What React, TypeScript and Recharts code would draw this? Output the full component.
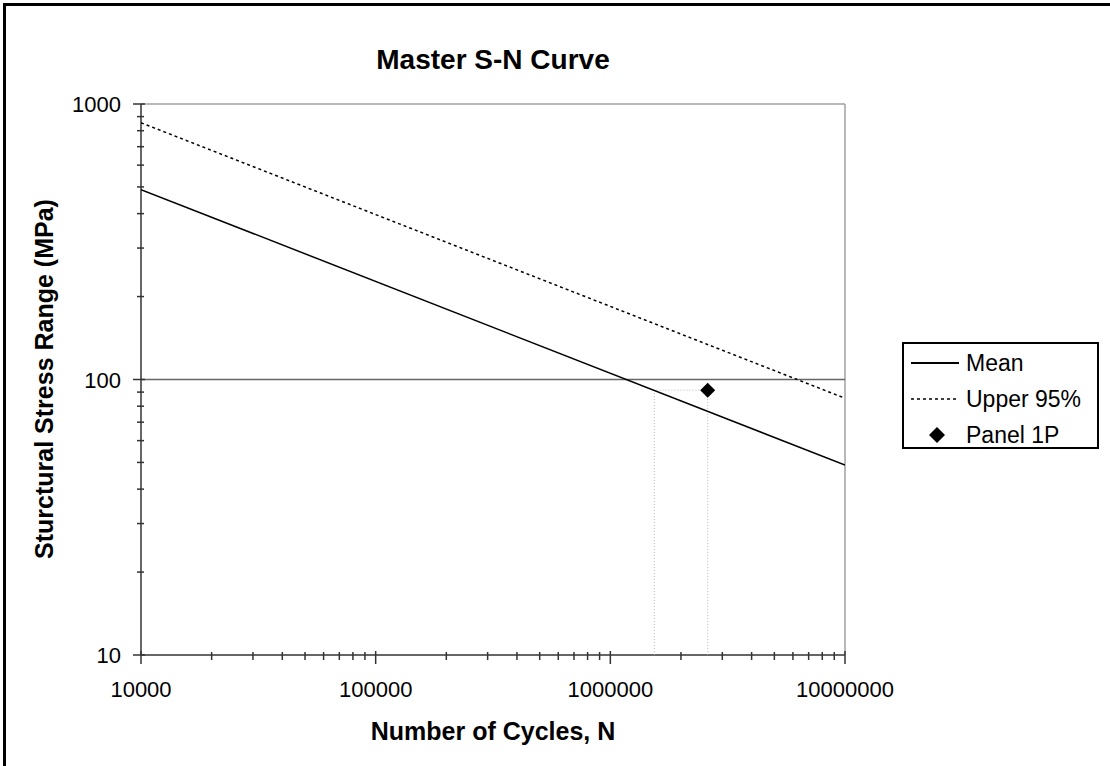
import React from "react";
import {
  ScatterChart,
  Scatter,
  XAxis,
  YAxis,
  ReferenceLine,
} from "recharts";

// ---- data ----
const meanCurve = [
  { x: 10000, y: 489 },
  { x: 10000000, y: 48.9 },
];
const upperCurve = [
  { x: 10000, y: 855 },
  { x: 10000000, y: 85.5 },
];
const panelPoint = [{ x: 2600000, y: 91.5 }];
const dropLines = [
  { x: 1540000, y: 10 },
  { x: 1540000, y: 91.5 },
  { x: 2600000, y: 91.5 },
  { x: 2600000, y: 10 },
];
const limitStress = 100;

const xMajorTicks = [10000, 100000, 1000000, 10000000];
const yMajorTicks = [10, 100, 1000];
const minorMultipliers = [2, 3, 4, 5, 6, 7, 8, 9];

const title = "Master S-N Curve";
const xTitle = "Number of Cycles, N";
const yTitle = "Sturctural Stress Range (MPa)";
const legendItems = ["Mean", "Upper 95%", "Panel 1P"];

const withMinor = (majors: number[]) => {
  const out: number[] = [];
  majors.forEach((m, i) => {
    out.push(m);
    if (i < majors.length - 1) minorMultipliers.forEach((k) => out.push(m * k));
  });
  return out;
};
const xTicks = withMinor(xMajorTicks);
const yTicks = withMinor(yMajorTicks);

const FONT = "'Liberation Sans', Arial, sans-serif";
const AXIS = "#333";

const isMajor = (v: number, majors: number[]) =>
  majors.some((m) => Math.abs(m - v) / m < 1e-9);

const XTick = (props: any) => {
  const { x, y, payload } = props;
  const v = payload.value;
  const major = isMajor(v, xMajorTicks);
  return (
    <g>
      <line
        x1={x}
        x2={x}
        y1={y - (major ? 4 : 3)}
        y2={y + (major ? 9 : 5)}
        stroke={AXIS}
        strokeWidth={1.5}
      />
      {major && (
        <text
          x={x}
          y={y + 42}
          textAnchor="middle"
          fontSize={22}
          fontFamily={FONT}
          fill="#000"
        >
          {String(v)}
        </text>
      )}
    </g>
  );
};

const YTick = (props: any) => {
  const { x, y, payload } = props;
  const v = payload.value;
  const major = isMajor(v, yMajorTicks);
  return (
    <g>
      <line
        x1={x - (major ? 8 : 4)}
        x2={x + (major ? 4 : 3)}
        y1={y}
        y2={y}
        stroke={AXIS}
        strokeWidth={1.5}
      />
      {major && (
        <text
          x={x - 20}
          y={y + 8}
          textAnchor="end"
          fontSize={22}
          fontFamily={FONT}
          fill="#000"
        >
          {String(v)}
        </text>
      )}
    </g>
  );
};

const NoDot = () => <g />;

const Diamond = (props: any) => {
  const { cx, cy } = props;
  const r = 7.5;
  return (
    <polygon
      points={`${cx},${cy - r} ${cx + r},${cy} ${cx},${cy + r} ${cx - r},${cy}`}
      fill="#000"
    />
  );
};

export default function App() {
  return (
    <div
      style={{
        position: "absolute",
        left: 0,
        top: 0,
        width: 1110,
        height: 766,
        background: "#fff",
        overflow: "hidden",
        fontFamily: FONT,
      }}
    >
      <div
        style={{
          position: "absolute",
          left: 3,
          top: 3,
          width: 1200,
          height: 900,
          borderTop: "3px solid #000",
          borderLeft: "3px solid #000",
        }}
      />
      <div style={{ position: "absolute", left: 0, top: 0 }}>
        <ScatterChart
          width={1110}
          height={766}
          margin={{ top: 104, right: 265, bottom: 0, left: 0 }}
        >
          <XAxis
            dataKey="x"
            type="number"
            scale="log"
            domain={[10000, 10000000]}
            allowDataOverflow
            ticks={xTicks}
            interval={0}
            tick={<XTick />}
            tickLine={false}
            tickSize={0}
            tickMargin={0}
            height={111}
            axisLine={{ stroke: AXIS, strokeWidth: 1.5 }}
          />
          <YAxis
            dataKey="y"
            type="number"
            scale="log"
            domain={[10, 1000]}
            allowDataOverflow
            ticks={yTicks}
            interval={0}
            tick={<YTick />}
            tickLine={false}
            tickSize={0}
            tickMargin={0}
            width={141}
            axisLine={{ stroke: AXIS, strokeWidth: 1.5 }}
          />
          <ReferenceLine y={1000} stroke="#a0a0a0" strokeWidth={1.5} />
          <ReferenceLine x={10000000} stroke="#a0a0a0" strokeWidth={1.5} />
          <ReferenceLine y={limitStress} stroke="#666" strokeWidth={1.5} />
          <Scatter
            name="drop"
            data={dropLines}
            line={{ stroke: "#b8b8b8", strokeWidth: 1, strokeDasharray: "1 2" }}
            shape={<NoDot />}
            isAnimationActive={false}
          />
          <Scatter
            name="Mean"
            data={meanCurve}
            line={{ stroke: "#000", strokeWidth: 1.5 }}
            shape={<NoDot />}
            isAnimationActive={false}
          />
          <Scatter
            name="Upper 95%"
            data={upperCurve}
            line={{ stroke: "#000", strokeWidth: 1.5, strokeDasharray: "3 3" }}
            shape={<NoDot />}
            isAnimationActive={false}
          />
          <Scatter
            name="Panel 1P"
            data={panelPoint}
            shape={<Diamond />}
            isAnimationActive={false}
          />
        </ScatterChart>
      </div>

      {/* Title */}
      <div
        style={{
          position: "absolute",
          left: 193,
          width: 600,
          top: 42,
          textAlign: "center",
          fontSize: 28,
          fontWeight: "bold",
          lineHeight: "36px",
        }}
      >
        {title}
      </div>

      {/* X axis title */}
      <div
        style={{
          position: "absolute",
          left: 193,
          width: 600,
          top: 716,
          textAlign: "center",
          fontSize: 25,
          fontWeight: "bold",
          lineHeight: "30px",
        }}
      >
        {xTitle}
      </div>

      {/* Y axis title */}
      <div
        style={{
          position: "absolute",
          left: 44 - 250,
          top: 379 - 15,
          width: 500,
          height: 30,
          textAlign: "center",
          fontSize: 25,
          fontWeight: "bold",
          lineHeight: "30px",
          transform: "rotate(-90deg)",
          transformOrigin: "50% 50%",
        }}
      >
        {yTitle}
      </div>

      {/* Legend */}
      <div
        style={{
          position: "absolute",
          left: 902,
          top: 342,
          width: 193,
          height: 103,
          border: "2px solid #000",
          background: "#fff",
        }}
      >
        {legendItems.map((name, i) => (
          <div
            key={name}
            style={{
              position: "absolute",
              left: 0,
              top: 2 + i * 36,
              height: 34,
              width: 193,
            }}
          >
            <svg
              width={60}
              height={34}
              style={{ position: "absolute", left: 0, top: 0 }}
            >
              {i === 0 && (
                <line x1={7} x2={55} y1={17} y2={17} stroke="#000" strokeWidth={2} />
              )}
              {i === 1 && (
                <line
                  x1={7}
                  x2={55}
                  y1={17}
                  y2={17}
                  stroke="#000"
                  strokeWidth={1.5}
                  strokeDasharray="3 3"
                />
              )}
              {i === 2 && (
                <polygon points="33,9 41,17 33,25 25,17" fill="#000" />
              )}
            </svg>
            <div
              style={{
                position: "absolute",
                left: 62,
                top: 0,
                lineHeight: "34px",
                fontSize: 23,
                whiteSpace: "nowrap",
              }}
            >
              {name}
            </div>
          </div>
        ))}
      </div>
    </div>
  );
}
